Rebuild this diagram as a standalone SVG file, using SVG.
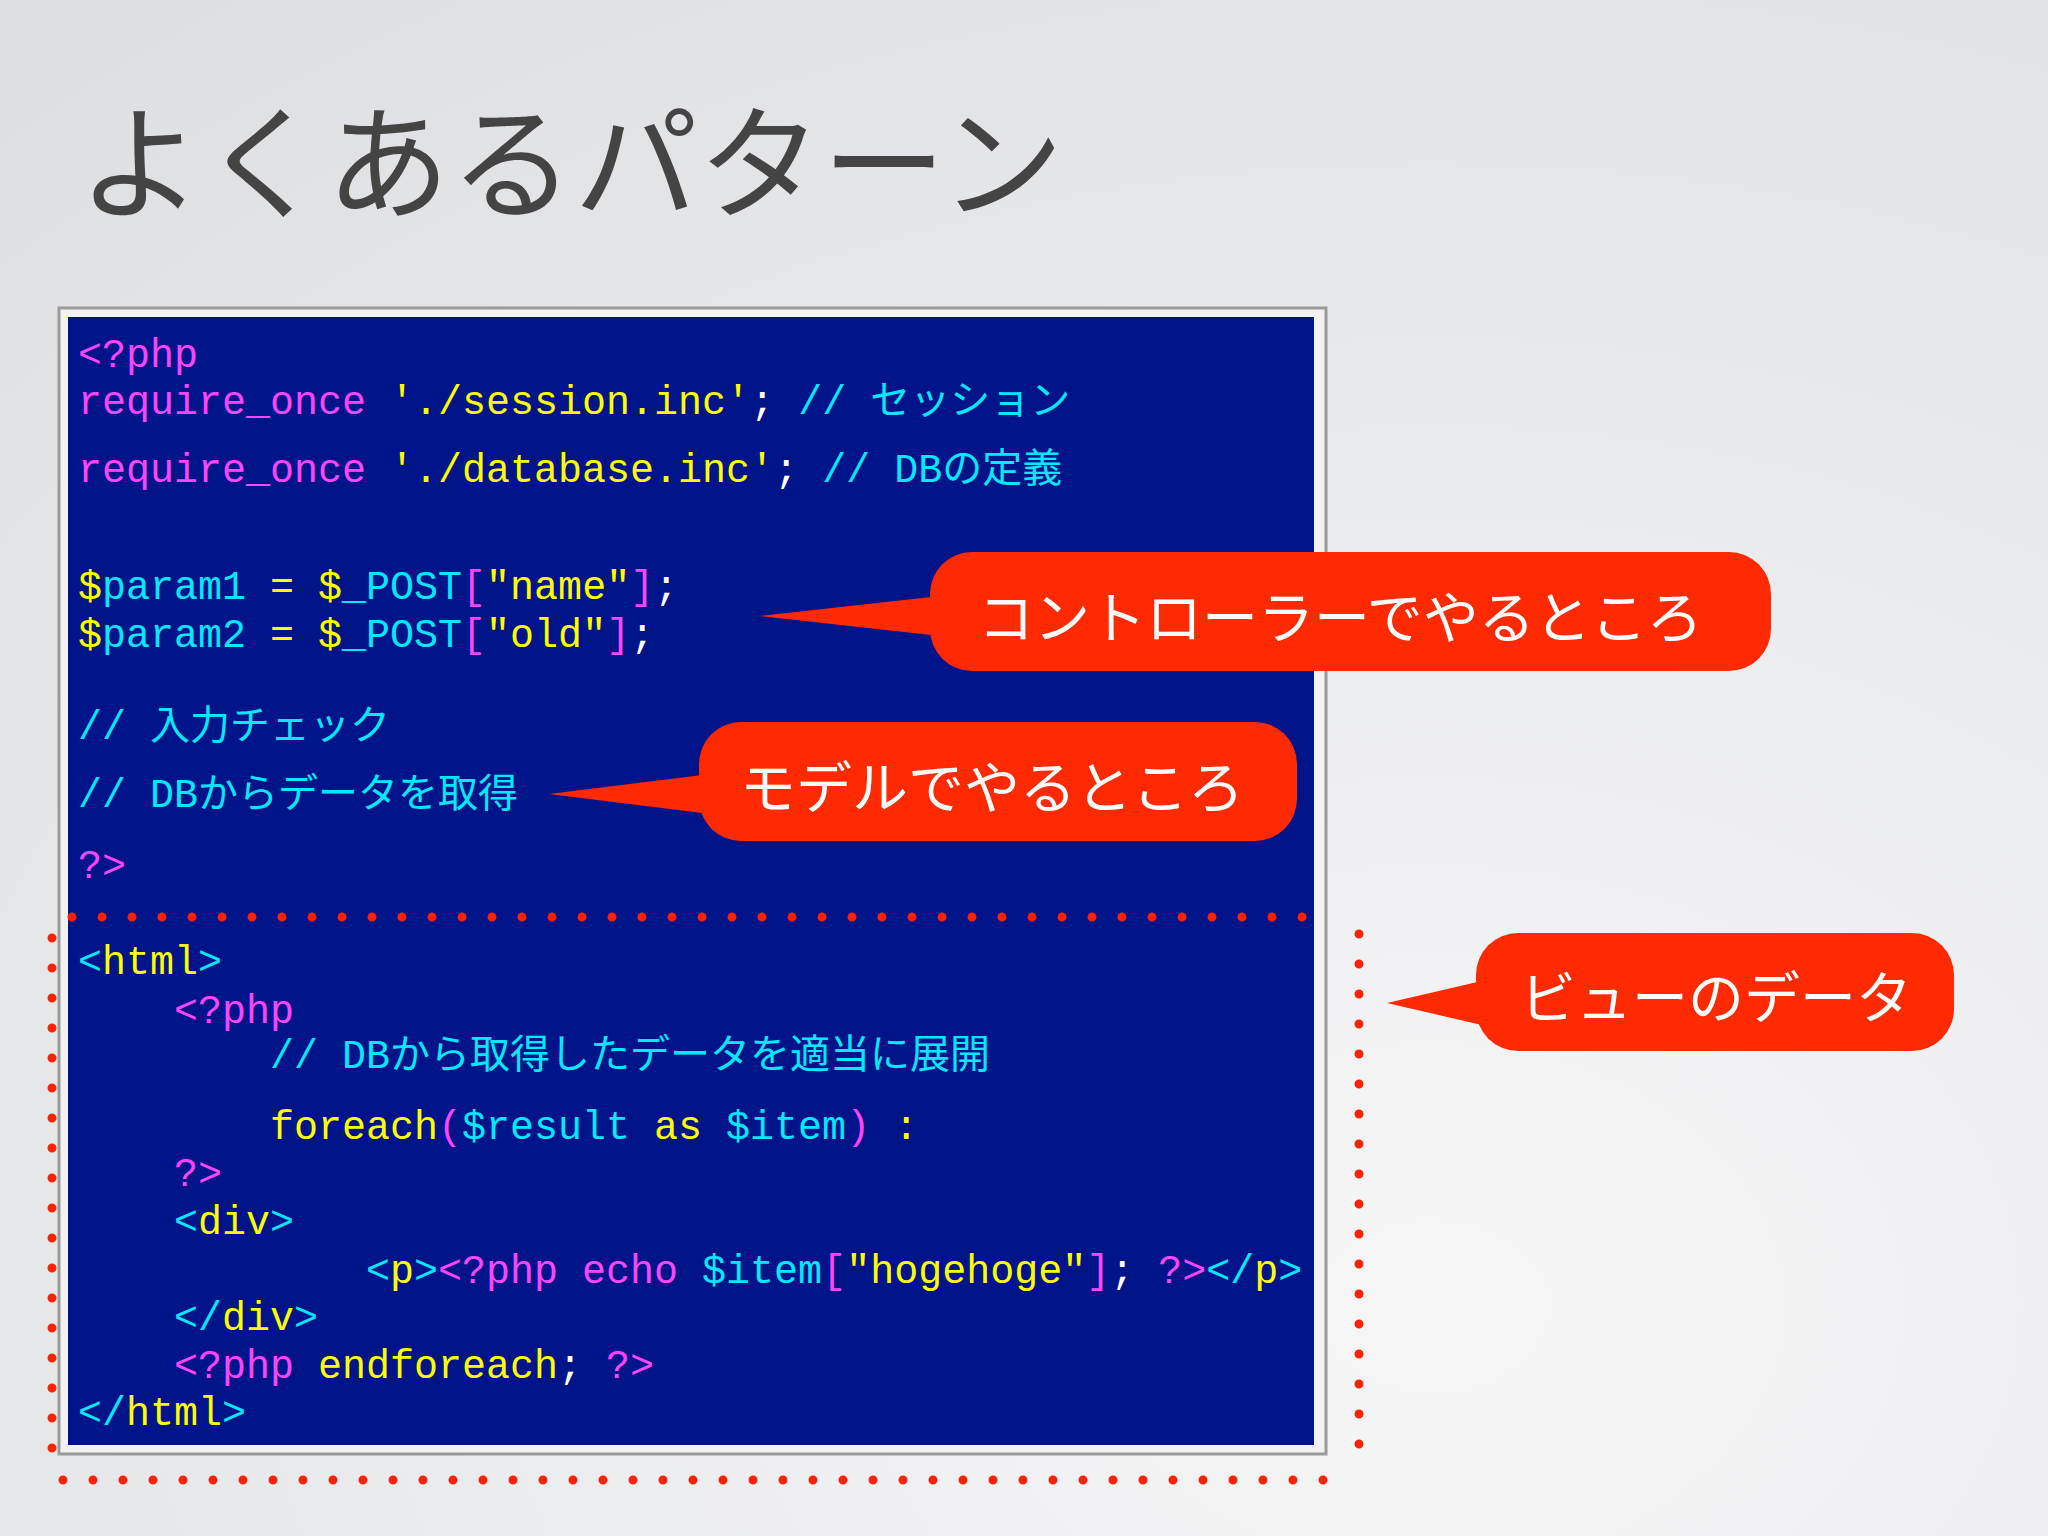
<svg xmlns="http://www.w3.org/2000/svg" width="2048" height="1536" viewBox="0 0 2048 1536">
<defs>
<radialGradient id="bg" cx="0.7" cy="0.85" r="1.1"><stop offset="0" stop-color="#f6f6f7"/><stop offset="1" stop-color="#dcdee1"/></radialGradient>
<style>
.c{font-family:"Liberation Mono","Noto Sans CJK JP",monospace;font-size:40px}
.m{fill:#ff45ff}.y{fill:#ffff00}.k{fill:#00e8ff}.w{fill:#ffffff}
.lbl{font-family:"Noto Sans CJK JP",sans-serif;font-size:56px;fill:#fff}
.dot{fill:none;stroke:#ff2200;stroke-width:9;stroke-linecap:round;stroke-dasharray:0 30}
.call{fill:#ff2a00}
</style>
</defs>
<rect width="2048" height="1536" fill="url(#bg)"/>
<text x="78" y="209" font-family="Noto Sans CJK JP,sans-serif" font-size="124" fill="#444">よくあるパターン</text>
<g id="codebox">
<rect x="59" y="308" width="1267" height="1146" fill="#f2f2f2" stroke="#9a9a9a" stroke-width="3"/>
<rect x="68" y="317" width="1246" height="1128" fill="#001489"/>
<g class="c" xml:space="preserve">
<text x="78" y="367" class="m">&lt;?php</text>
<text x="78" y="414"><tspan class="m">require_once </tspan><tspan class="y">'./session.inc'</tspan><tspan class="w">;  </tspan><tspan class="k">// セッション</tspan></text>
<text x="78" y="482"><tspan class="m">require_once </tspan><tspan class="y">'./database.inc'</tspan><tspan class="w">; </tspan><tspan class="k">// DBの定義</tspan></text>
<text x="78" y="599"><tspan class="y">$</tspan><tspan class="k">param1 </tspan><tspan class="y">= $</tspan><tspan class="k">_POST</tspan><tspan class="m">[</tspan><tspan class="y">"name"</tspan><tspan class="m">]</tspan><tspan class="w">;</tspan></text>
<text x="78" y="647"><tspan class="y">$</tspan><tspan class="k">param2 </tspan><tspan class="y">= $</tspan><tspan class="k">_POST</tspan><tspan class="m">[</tspan><tspan class="y">"old"</tspan><tspan class="m">]</tspan><tspan class="w">;</tspan></text>
<text x="78" y="739" class="k">// 入力チェック</text>
<text x="78" y="807" class="k">// DBからデータを取得</text>
<text x="78" y="878" class="m">?&gt;</text>
<text x="78" y="974"><tspan class="k">&lt;</tspan><tspan class="y">html</tspan><tspan class="k">&gt;</tspan></text>
<text x="174" y="1023" class="m">&lt;?php</text>
<text x="270" y="1068" class="k">// DBから取得したデータを適当に展開</text>
<text x="270" y="1139"><tspan class="y">foreach</tspan><tspan class="m">(</tspan><tspan class="k">$result </tspan><tspan class="y">as </tspan><tspan class="k">$item</tspan><tspan class="m">)</tspan><tspan class="y"> :</tspan></text>
<text x="174" y="1186" class="m">?&gt;</text>
<text x="174" y="1234"><tspan class="k">&lt;</tspan><tspan class="y">div</tspan><tspan class="k">&gt;</tspan></text>
<text x="366" y="1283"><tspan class="k">&lt;</tspan><tspan class="y">p</tspan><tspan class="k">&gt;</tspan><tspan class="m">&lt;?php echo </tspan><tspan class="k">$item</tspan><tspan class="m">[</tspan><tspan class="y">"hogehoge"</tspan><tspan class="m">]</tspan><tspan class="w">; </tspan><tspan class="m">?&gt;</tspan><tspan class="k">&lt;/</tspan><tspan class="y">p</tspan><tspan class="k">&gt;</tspan></text>
<text x="174" y="1330"><tspan class="k">&lt;/</tspan><tspan class="y">div</tspan><tspan class="k">&gt;</tspan></text>
<text x="174" y="1378"><tspan class="m">&lt;?php </tspan><tspan class="y">endforeach</tspan><tspan class="w">; </tspan><tspan class="m">?&gt;</tspan></text>
<text x="78" y="1425"><tspan class="k">&lt;/</tspan><tspan class="y">html</tspan><tspan class="k">&gt;</tspan></text>
</g>
</g>
<g id="connectors">
<path class="dot" d="M72 917 H1332"/>
<path class="dot" d="M1359 934 V1452"/>
<path class="dot" d="M63 1480 H1352"/>
<path class="dot" d="M52 938 V1452"/>
</g>
<g id="callout-controller">
<path class="call" d="M760 616 L940 596 L940 636 Z"/>
<rect class="call" x="930" y="552" width="841" height="119" rx="42"/>
<text class="lbl" x="978" y="638">コントローラーでやるところ</text>
</g>
<g id="callout-model">
<path class="call" d="M549 794 L710 774 L710 814 Z"/>
<rect class="call" x="699" y="722" width="598" height="119" rx="42"/>
<text class="lbl" x="740" y="808">モデルでやるところ</text>
</g>
<g id="callout-view">
<path class="call" d="M1387 1003 L1486 980 L1486 1026 Z"/>
<rect class="call" x="1476" y="933" width="478" height="118" rx="42"/>
<text class="lbl" x="1520" y="1018">ビューのデータ</text>
</g>
</svg>
